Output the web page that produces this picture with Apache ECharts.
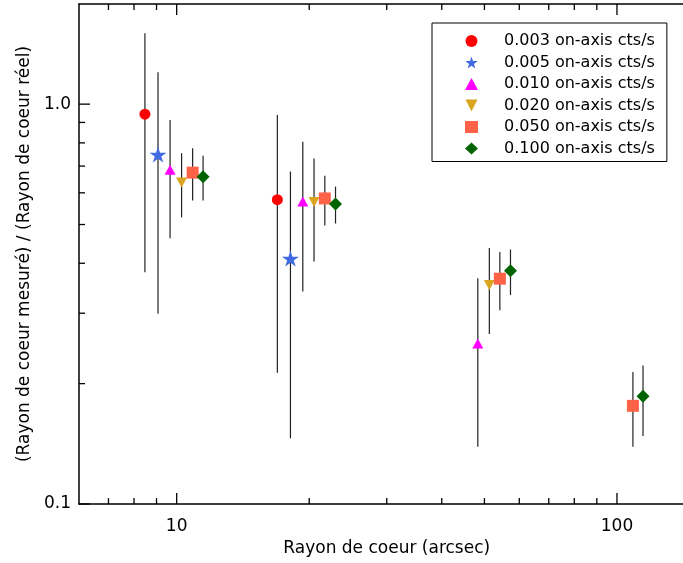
<!DOCTYPE html>
<html>
<head>
<meta charset="utf-8">
<script src="https://cdn.jsdelivr.net/npm/echarts@6/dist/echarts.min.js"></script>
<style>
html,body{margin:0;padding:0;background:#fff;overflow:hidden;}
#chart{width:720px;height:563px;}
</style>
</head>
<body>
<div id="chart"></div>
<script>
// ---- data ----
const seriesNames = ['0.003 on-axis cts/s','0.005 on-axis cts/s','0.010 on-axis cts/s','0.020 on-axis cts/s','0.050 on-axis cts/s','0.100 on-axis cts/s'];

const x003 = [8.47, 16.93];
const y003 = [0.944, 0.577];
const lo003 = [0.380, 0.213];
const hi003 = [1.505, 0.940];

const x005 = [9.07, 18.13];
const y005 = [0.748, 0.411];
const lo005 = [0.299, 0.146];
const hi005 = [1.202, 0.678];

const x010 = [9.66, 19.34, 48.3];
const y010 = [0.685, 0.571, 0.252];
const lo010 = [0.462, 0.340, 0.139];
const hi010 = [0.913, 0.805, 0.367];

const x020 = [10.26, 20.51, 51.3];
const y020 = [0.637, 0.569, 0.353];
const lo020 = [0.521, 0.404, 0.266];
const hi020 = [0.754, 0.731, 0.437];

const x050 = [10.87, 21.70, 54.2, 108.7];
const y050 = [0.674, 0.581, 0.366, 0.176];
const lo050 = [0.574, 0.497, 0.305, 0.139];
const hi050 = [0.776, 0.662, 0.427, 0.214];

const x100 = [11.48, 22.95, 57.3, 114.6];
const y100 = [0.658, 0.563, 0.383, 0.186];
const lo100 = [0.574, 0.503, 0.333, 0.148];
const hi100 = [0.743, 0.622, 0.433, 0.222];

const xMajorTicks = [10, 100];
const xMinorTicks = [7, 8, 9, 20, 30, 40, 50, 60, 70, 80, 90];
const yMajorTicks = [0.1, 1];
const yMinorTicks = [0.2, 0.3, 0.4, 0.5, 0.6, 0.7, 0.8, 0.9];

// ---- build ----
const FONT = 'DejaVu Sans';
const starPath = 'path://M50,0 L61.2,34.5 L97.6,34.5 L68.2,55.9 L79.4,90.5 L50,69.1 L20.6,90.5 L31.8,55.9 L2.4,34.5 L38.8,34.5 Z';
const downTriPath = 'path://M0,0 L10,0 L5,10 Z';

const groups = [
  {x: x003, y: y003, lo: lo003, hi: hi003, color: '#FF0000', symbol: 'circle', size: 11},
  {x: x005, y: y005, lo: lo005, hi: hi005, color: '#4169E1', symbol: starPath, size: [17, 16]},
  {x: x010, y: y010, lo: lo010, hi: hi010, color: '#FF00FF', symbol: 'triangle', size: [11, 10]},
  {x: x020, y: y020, lo: lo020, hi: hi020, color: '#DAA520', symbol: downTriPath, size: [11, 10]},
  {x: x050, y: y050, lo: lo050, hi: hi050, color: '#FF6347', symbol: 'rect', size: 12},
  {x: x100, y: y100, lo: lo100, hi: hi100, color: '#006400', symbol: 'diamond', size: 13}
];

const errData = [];
groups.forEach(g => g.x.forEach((xv, i) => errData.push([xv, g.y[i], g.lo[i], g.hi[i]])));

const MAJOR_LEN = 11, MINOR_LEN = 6;
const tickData = [];
xMajorTicks.forEach(v => tickData.push([v, 1, MAJOR_LEN, 0]));
xMinorTicks.forEach(v => tickData.push([v, 1, MINOR_LEN, 0]));
yMajorTicks.forEach(v => tickData.push([10, v, MAJOR_LEN, 1]));
yMinorTicks.forEach(v => tickData.push([10, v, MINOR_LEN, 1]));

function isPow10(v) {
  const l = Math.log10(v);
  return Math.abs(l - Math.round(l)) < 1e-6;
}

const series = [];
series.push({
  type: 'custom',
  silent: true,
  z: 1,
  data: errData,
  renderItem: function (params, api) {
    const p1 = api.coord([api.value(0), api.value(2)]);
    const p2 = api.coord([api.value(0), api.value(3)]);
    return {
      type: 'line',
      shape: {x1: p1[0], y1: p1[1], x2: p2[0], y2: p2[1]},
      style: {stroke: '#222', lineWidth: 1.2}
    };
  }
});
series.push({
  type: 'custom',
  silent: true,
  z: 5,
  data: tickData,
  renderItem: function (params, api) {
    const cs = params.coordSys;
    const p = api.coord([api.value(0), api.value(1)]);
    const len = api.value(2);
    const kind = api.value(3);
    const st = {stroke: '#000', lineWidth: 1.3};
    if (kind === 0) {
      const b = cs.y + cs.height, t = cs.y;
      return {type: 'group', children: [
        {type: 'line', shape: {x1: p[0], y1: b, x2: p[0], y2: b - len}, style: st},
        {type: 'line', shape: {x1: p[0], y1: t, x2: p[0], y2: t + len}, style: st}
      ]};
    } else {
      const l = cs.x, r = cs.x + cs.width;
      return {type: 'group', children: [
        {type: 'line', shape: {x1: l, y1: p[1], x2: l + len, y2: p[1]}, style: st},
        {type: 'line', shape: {x1: r, y1: p[1], x2: r - len, y2: p[1]}, style: st}
      ]};
    }
  }
});
groups.forEach((g, k) => {
  series.push({
    name: seriesNames[k],
    type: 'scatter',
    z: 3,
    symbol: g.symbol,
    symbolSize: g.size,
    itemStyle: {color: g.color, opacity: 1},
    emphasis: {disabled: true},
    data: g.x.map((xv, i) => [xv, g.y[i]])
  });
});

const axisLineStyle = {color: '#000', width: 1.5};
const option = {
  animation: false,
  backgroundColor: '#fff',
  grid: {left: 79, top: 4, width: 615.5, height: 500, containLabel: false, outerBoundsMode: 'none'},
  legend: {
    orient: 'vertical',
    left: 432,
    top: 23,
    data: seriesNames,
    itemWidth: 13,
    itemHeight: 12,
    itemGap: 5.5,
    padding: [10, 12, 5, 33],
    borderColor: '#000',
    borderWidth: 1,
    selectedMode: false,
    textStyle: {fontFamily: FONT, fontSize: 16, color: '#000', lineHeight: 16, padding: [0, 0, 0, 21]}
  },
  xAxis: [{
    type: 'log',
    logBase: 10,
    min: 6,
    max: 150,
    position: 'bottom',
    name: 'Rayon de coeur (arcsec)',
    nameLocation: 'middle',
    nameGap: 36,
    nameTextStyle: {fontFamily: FONT, fontSize: 17, color: '#000'},
    axisLine: {show: true, lineStyle: axisLineStyle},
    axisTick: {show: false},
    splitLine: {show: false},
    minorTick: {show: false},
    axisLabel: {
      margin: 14,
      fontFamily: FONT, fontSize: 17, color: '#000',
      showMinLabel: true, showMaxLabel: true,
      formatter: v => isPow10(v) ? String(Math.round(v)) : ''
    }
  }, {
    type: 'log',
    logBase: 10,
    min: 6,
    max: 150,
    position: 'top',
    axisLine: {show: true, lineStyle: axisLineStyle},
    axisTick: {show: false},
    axisLabel: {show: false},
    splitLine: {show: false}
  }],
  yAxis: [{
    type: 'log',
    logBase: 10,
    min: 0.1,
    max: 1.78,
    position: 'left',
    name: '(Rayon de coeur mesuré) / (Rayon de coeur réel)',
    nameLocation: 'middle',
    nameGap: 41,
    nameRotate: 90,
    nameTextStyle: {fontFamily: FONT, fontSize: 17, color: '#000'},
    axisLine: {show: true, lineStyle: axisLineStyle},
    axisTick: {show: false},
    splitLine: {show: false},
    minorTick: {show: false},
    axisLabel: {
      margin: 8,
      fontFamily: FONT, fontSize: 17, color: '#000',
      showMinLabel: true, showMaxLabel: true,
      formatter: v => isPow10(v) ? (v >= 1 ? '1.0' : '0.1') : ''
    }
  }, {
    type: 'log',
    logBase: 10,
    min: 0.1,
    max: 1.78,
    position: 'right',
    axisLine: {show: true, lineStyle: axisLineStyle},
    axisTick: {show: false},
    axisLabel: {show: false},
    splitLine: {show: false}
  }],
  series: series
};

const chart = echarts.init(document.getElementById('chart'), null, {renderer: 'canvas'});
chart.setOption(option);
</script>
</body>
</html>
